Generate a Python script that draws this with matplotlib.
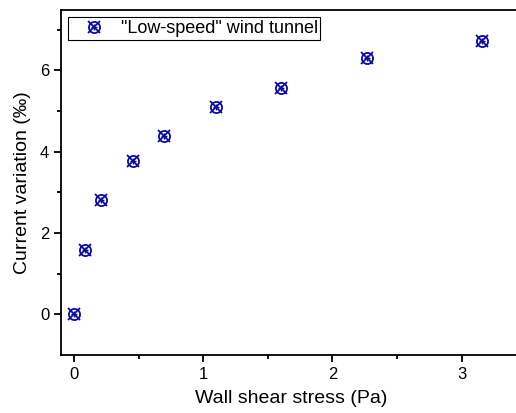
import numpy as np
import matplotlib.pyplot as plt
from matplotlib.lines import Line2D

plt.rcParams['font.family'] = ['Liberation Sans', 'DejaVu Sans']

# data
shear = [0.0, 0.085, 0.21, 0.457, 0.70, 1.10, 1.60, 2.27, 3.155]
current = [0.0, 1.57, 2.80, 3.76, 4.38, 5.09, 5.56, 6.30, 6.72]
label = '"Low-speed" wind tunnel'
color = '#0a0aa8'

fig = plt.figure(figsize=(5.16, 4.13), dpi=100)
ax = fig.add_axes([61 / 516, 58 / 413, 460 / 516, 345 / 413])

# marker: circle + x + plus overlay
ax.plot(shear, current, ls='none', marker='o', ms=8, mfc='none', mec=color, mew=1.3)
ax.plot(shear, current, ls='none', marker='x', ms=8, mec=color, mew=1.3)
ax.plot(shear, current, ls='none', marker='+', ms=5, mec=color, mew=1.0)

ax.set_xlim(-0.1, 3.46)
ax.set_ylim(-1, 7.48)
ax.set_xticks([0, 1, 2, 3])
ax.set_xticks([0.5, 1.5, 2.5], minor=True)
ax.set_yticks([0, 2, 4, 6])
ax.set_yticks([1, 3, 5, 7], minor=True)
ax.tick_params(which='major', direction='out', length=5, width=1.3, labelsize=12)
ax.tick_params(which='minor', direction='out', length=3, width=1.3)
for s in ax.spines.values():
    s.set_linewidth(1.3)
ax.spines['right'].set_visible(False)

ax.set_xlabel('Wall shear stress (Pa)', fontsize=14, labelpad=6)
ax.set_ylabel('Current variation (‰)', fontsize=14, labelpad=6)

h1 = Line2D([], [], ls='none', marker='o', ms=8, mfc='none', mec=color, mew=1.3)
h2 = Line2D([], [], ls='none', marker='x', ms=8, mec=color, mew=1.3)
h3 = Line2D([], [], ls='none', marker='+', ms=5, mec=color, mew=1.0)
leg = ax.legend([(h1, h2, h3)], [label], loc='upper left', fontsize=13,
                fancybox=False, edgecolor='black', framealpha=1,
                borderaxespad=0.4, borderpad=0.15, handlelength=2.6,
                handletextpad=0.15)
leg.get_frame().set_linewidth(0.8)

fig.savefig('out.png', dpi=100)
